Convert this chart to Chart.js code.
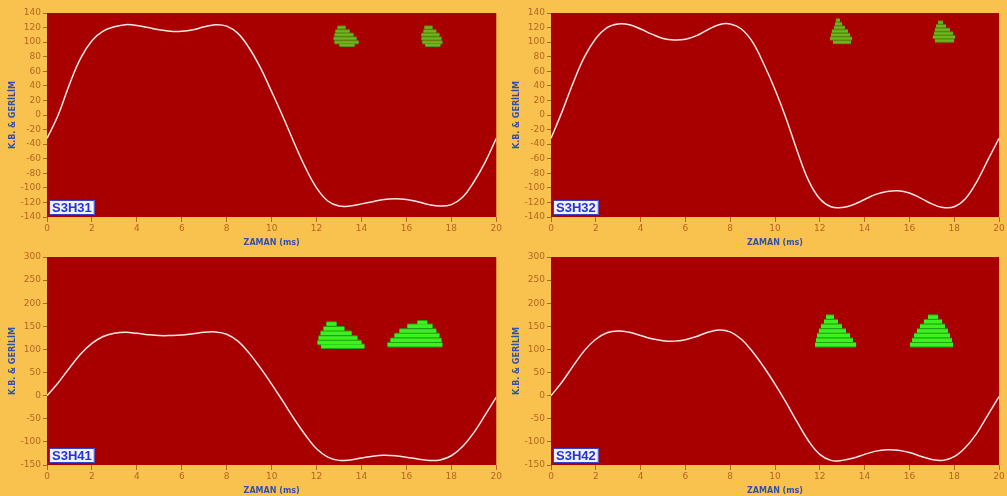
<!DOCTYPE html>
<html>
<head>
<meta charset="utf-8">
<script src="https://cdn.jsdelivr.net/npm/chart.js@4"></script>
<style>
  body { margin: 0; background: #f9c24f; width: 1007px; height: 496px; overflow: hidden; position: relative; }
  canvas { position: absolute; }
</style>
</head>
<body>
<canvas id="g31" width="503" height="248" style="left:0;top:0"></canvas>
<canvas id="g32" width="503" height="248" style="left:504px;top:0"></canvas>
<canvas id="g41" width="503" height="248" style="left:0;top:248px"></canvas>
<canvas id="g42" width="503" height="248" style="left:504px;top:248px"></canvas>
<script>
// zaman ekseni (ms)
const zaman = [0, 0.5, 1, 1.5, 2, 2.5, 3, 3.5, 4, 4.5, 5, 5.5, 6, 6.5, 7, 7.5, 8, 8.5, 9, 9.5, 10,
  10.5, 11, 11.5, 12, 12.5, 13, 13.5, 14, 14.5, 15, 15.5, 16, 16.5, 17, 17.5, 18, 18.5, 19, 19.5, 20];

// gerilim egrileri
const gerilimH31 = [-32, 0, 42, 78, 102, 115, 121, 124, 123, 120, 117, 115, 115, 117, 121, 124, 122, 112, 92, 65, 32,
  -2, -38, -72, -100, -118, -125, -125, -122, -119, -116, -115, -116, -119, -123, -125, -123, -113, -92, -65, -32];
const gerilimH32 = [-32, 5, 45, 80, 105, 120, 125, 124, 118, 111, 105, 103, 104, 109, 117, 124, 125, 118, 100, 70, 35,
  -5, -50, -90, -115, -126, -127, -123, -116, -109, -105, -104, -107, -114, -122, -127, -126, -115, -92, -62, -32];
const gerilimH41 = [0, 28, 60, 90, 113, 128, 135, 137, 135, 132, 130, 130, 131, 134, 137, 138, 133, 118, 92, 60, 25,
  -12, -50, -85, -115, -133, -140, -139, -135, -131, -129, -130, -133, -137, -140, -139, -130, -110, -80, -42, -3];
const gerilimH42 = [0, 30, 65, 98, 122, 136, 140, 137, 130, 123, 119, 118, 121, 128, 137, 142, 138, 122, 95, 62, 25,
  -15, -58, -98, -127, -140, -140, -135, -127, -120, -117, -118, -123, -131, -138, -140, -132, -112, -82, -42, -2];

// kismi desarj kumeleri: [seviye, baslangic ms, bitis ms]
const kumeH31a = [[120, 12.93, 13.29], [115, 12.84, 13.47], [110, 12.8, 13.64], [105, 12.76, 13.78], [100, 12.8, 13.87], [96, 13.02, 13.69]];
const kumeH31b = [[120, 16.8, 17.16], [115, 16.76, 17.33], [110, 16.67, 17.47], [105, 16.67, 17.56], [100, 16.71, 17.6], [96, 16.84, 17.51]];
const kumeH32a = [[130, 12.72, 12.9], [125, 12.68, 12.99], [120, 12.63, 13.12], [115, 12.54, 13.26], [110, 12.5, 13.35], [105, 12.46, 13.44], [100, 12.59, 13.39]];
const kumeH32b = [[127, 17.28, 17.5], [122, 17.19, 17.63], [117, 17.14, 17.81], [112, 17.1, 17.95], [107, 17.05, 18.04], [102, 17.14, 17.99]];
const kumeH41a = [[155, 12.44, 12.89], [145, 12.31, 13.24], [135, 12.18, 13.56], [125, 12.09, 13.82], [115, 12.04, 14.0], [107, 12.2, 14.13]];
const kumeH41b = [[158, 16.49, 16.93], [150, 16.04, 17.16], [140, 15.69, 17.33], [130, 15.47, 17.47], [120, 15.29, 17.56], [110, 15.16, 17.6]];
const kumeH42a = [[170, 12.28, 12.63], [160, 12.19, 12.81], [150, 12.05, 12.99], [140, 11.96, 13.17], [130, 11.88, 13.35], [120, 11.83, 13.48], [110, 11.79, 13.62]];
const kumeH42b = [[170, 16.83, 17.28], [160, 16.65, 17.46], [150, 16.47, 17.59], [140, 16.34, 17.72], [130, 16.21, 17.81], [120, 16.12, 17.9], [110, 16.03, 17.95]];

// eksen ayarlari
const ustTicks = { min: -140, max: 140, step: 20 };
const altTicks = { min: -150, max: 300, step: 50 };
const zamanTicks = { min: 0, max: 20, step: 2 };

const kahve = "#b5651d";
const mavi = "#3352a8";

Chart.defaults.font.family = "DejaVu Sans";
Chart.defaults.animation = false;

const arkaPlan = {
  id: "arkaPlan",
  beforeDraw(chart) {
    const { ctx, chartArea: a } = chart;
    ctx.save();
    ctx.fillStyle = "#a80000";
    ctx.fillRect(a.left, a.top, a.right - a.left, a.bottom - a.top);
    ctx.restore();
  },
};

const etiket = {
  id: "etiket",
  afterDraw(chart, args, opts) {
    const { ctx, chartArea: a } = chart;
    ctx.save();
    ctx.font = "bold 13px 'Liberation Sans'";
    const w = ctx.measureText(opts.text).width + 6;
    ctx.fillStyle = "#f2f2ff";
    ctx.fillRect(a.left + 2, a.bottom - 17, w, 15);
    ctx.strokeStyle = "#3344cc";
    ctx.lineWidth = 1;
    ctx.strokeRect(a.left + 2.5, a.bottom - 16.5, w - 1, 14);
    ctx.fillStyle = "#2233dd";
    ctx.textBaseline = "middle";
    ctx.fillText(opts.text, a.left + 5, a.bottom - 9);
    ctx.restore();
  },
};

// her satir: altta koyu serit, ustte parlak serit (order kucuk olan ustte cizilir)
function kumeSetleri(kume, koyu, acik, kalin) {
  const setler = [];
  kume.forEach((r) => {
    const satir = [{ x: r[1], y: r[0] }, { x: r[2], y: r[0] }];
    setler.push({
      data: satir, showLine: true, borderColor: koyu, borderWidth: kalin + 2, pointRadius: 0, order: 3,
    });
    setler.push({
      data: satir, showLine: true, borderColor: acik, borderWidth: kalin, pointRadius: 0, order: 2,
    });
  });
  return setler;
}

function ciz(id, ad, gerilim, kumeler, yAyar, ustBosluk, sagBosluk, renk) {
  const egri = zaman.map((t, i) => ({ x: t, y: gerilim[i] }));
  let datasets = [];
  kumeler.forEach((k) => {
    datasets = datasets.concat(kumeSetleri(k, renk[0], renk[1], renk[2]));
  });
  datasets.push({
    data: egri, showLine: true, borderColor: "#fbe6e6", borderWidth: 1.5, pointRadius: 0, tension: 0.4, order: 1,
  });

  new Chart(document.getElementById(id), {
    type: "scatter",
    data: { datasets: datasets },
    options: {
      responsive: false,
      layout: { padding: { top: ustBosluk, right: sagBosluk, left: 0, bottom: 0 } },
      plugins: { legend: { display: false }, tooltip: { enabled: false }, etiket: { text: ad } },
      scales: {
        x: {
          type: "linear", min: zamanTicks.min, max: zamanTicks.max,
          afterFit: (s) => { s.height = 31; },
          ticks: { stepSize: zamanTicks.step, color: kahve, font: { size: 9 }, padding: 1, maxRotation: 0 },
          grid: { drawOnChartArea: false, drawTicks: true, tickLength: 5, color: kahve },
          border: { display: false },
          title: { display: true, text: "ZAMAN (ms)", color: mavi, font: { size: 8, weight: "bold" }, padding: { top: 0, bottom: 0 } },
        },
        y: {
          min: yAyar.min, max: yAyar.max,
          afterFit: (s) => { s.width = 47; },
          ticks: { stepSize: yAyar.step, color: kahve, font: { size: 9 }, padding: 2, autoSkip: false },
          grid: { drawOnChartArea: false, drawTicks: true, tickLength: 4, color: kahve },
          border: { display: false },
          title: { display: true, text: "K.B. & GERİLİM", color: mavi, font: { size: 8, weight: "bold" }, padding: { top: 8, bottom: 0 } },
        },
      },
    },
    plugins: [arkaPlan, etiket],
  });
}

const ustRenk = ["#5a9012", "#6cb81c", 2];
const altRenk = ["#22a012", "#3ef01f", 3.5];

ciz("g31", "S3H31", gerilimH31, [kumeH31a, kumeH31b], ustTicks, 13, 6, ustRenk);
ciz("g32", "S3H32", gerilimH32, [kumeH32a, kumeH32b], ustTicks, 13, 8, ustRenk);
ciz("g41", "S3H41", gerilimH41, [kumeH41a, kumeH41b], altTicks, 9, 6, altRenk);
ciz("g42", "S3H42", gerilimH42, [kumeH42a, kumeH42b], altTicks, 9, 8, altRenk);
</script>
</body>
</html>
